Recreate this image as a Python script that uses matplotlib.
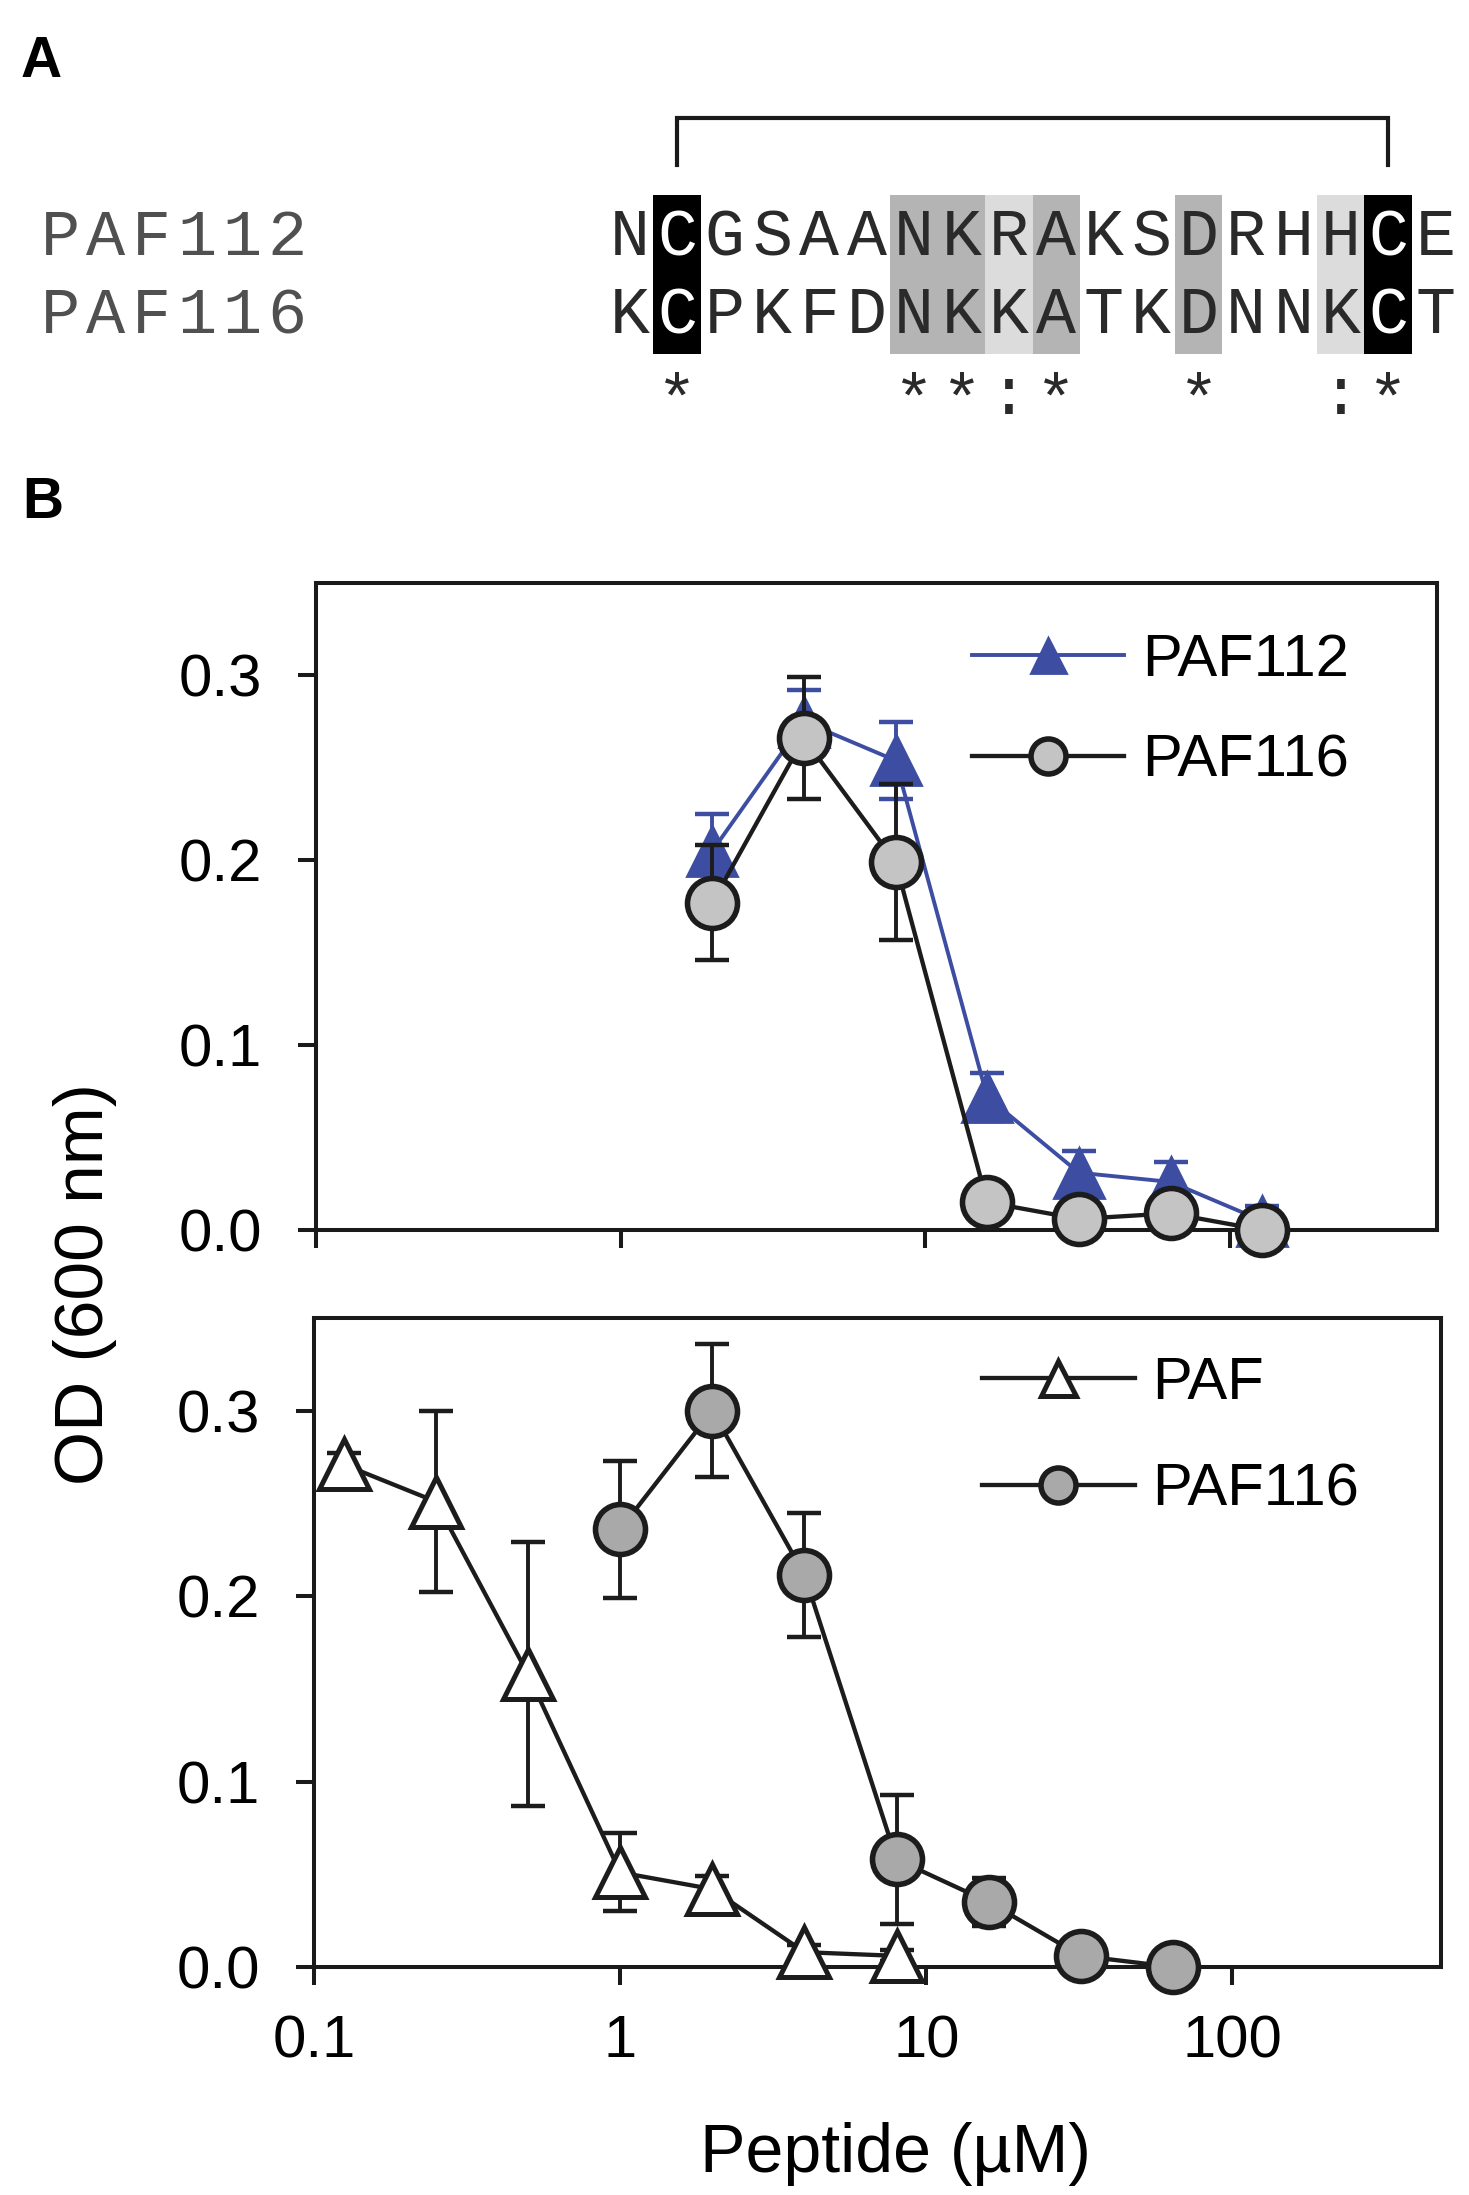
import matplotlib
matplotlib.use("Agg")
import matplotlib.pyplot as plt
from matplotlib.patches import Rectangle

# ---------------- Panel A: alignment data ----------------
seq_names = ["PAF112", "PAF116"]
seq_rows = ["NCGSAANKRAKSDRHHCE", "KCPKFDNKKATKDNNKCT"]
conservation = " *    **:*  *  :* "
shading = ["", "k", "", "", "", "", "d", "d", "l", "d", "", "", "d", "", "", "l", "k", ""]
bracket_cols = [1, 16]

# ---------------- Panel B: data ----------------
conc_top = [2, 4, 8, 16, 32, 64, 128]
paf112_od = [0.205, 0.275, 0.254, 0.072, 0.031, 0.026, 0.005]
paf112_err = [0.020, 0.017, 0.021, 0.013, 0.012, 0.011, 0.008]
paf116_top_od = [0.177, 0.266, 0.199, 0.015, 0.006, 0.009, 0.000]
paf116_top_err = [0.031, 0.033, 0.042, 0.004, 0.003, 0.003, 0.002]

conc_paf = [0.125, 0.25, 0.5, 1, 2, 4, 8]
paf_od = [0.271, 0.251, 0.158, 0.051, 0.042, 0.008, 0.006]
paf_err = [0.006, 0.049, 0.071, 0.021, 0.007, 0.004, 0.003]
conc_116 = [1, 2, 4, 8, 16, 32, 64]
paf116_bot_od = [0.236, 0.300, 0.2115, 0.058, 0.035, 0.006, 0.000]
paf116_bot_err = [0.037, 0.036, 0.0335, 0.035, 0.013, 0.003, 0.002]

xticks = [0.1, 1, 10, 100]
xticklabels = ["0.1", "1", "10", "100"]
yticks = [0.0, 0.1, 0.2, 0.3]
yticklabels = ["0.0", "0.1", "0.2", "0.3"]

plt.rcParams["font.family"] = ["Liberation Sans", "DejaVu Sans"]

W, H = 1469, 2195
fig = plt.figure(figsize=(W / 100, H / 100), dpi=100)
fig.patch.set_facecolor("white")

BLUE = "#3D4EA2"
EDGE = "#1c1c1c"

# ---------- overlay for panel A (pixel coordinates) ----------
ov = fig.add_axes([0, 0, 1, 1], zorder=-1)
ov.set_xlim(0, W)
ov.set_ylim(H, 0)
ov.axis("off")

fig.text(21 / W, 1 - 77 / H, "A", fontsize=41, fontweight="bold", ha="left", va="baseline")
fig.text(22 / W, 1 - 518 / H, "B", fontsize=41, fontweight="bold", ha="left", va="baseline")

seq_x0, seq_adv = 606, 47.4
name_x0, name_adv = 38, 45.3
row_base = [255, 333]
mono = "Liberation Mono"
shade_col = {"k": "black", "d": "#b4b4b4", "l": "#dcdcdc"}

for i, s in enumerate(shading):
    if s:
        ov.add_patch(Rectangle((seq_x0 + seq_adv * i, 195), seq_adv, 159,
                               facecolor=shade_col[s], edgecolor="none"))

for r, (name, seq) in enumerate(zip(seq_names, seq_rows)):
    for j, ch in enumerate(name):
        ov.text(name_x0 + name_adv * (j + 0.5), row_base[r], ch, family=mono,
                fontsize=47, color="#505050", ha="center", va="baseline")
    for j, ch in enumerate(seq):
        col = "white" if shading[j] == "k" else "#2a2a2a"
        ov.text(seq_x0 + seq_adv * (j + 0.5), row_base[r], ch, family=mono,
                fontsize=48, color=col, ha="center", va="baseline")

for j, ch in enumerate(conservation):
    if ch == "*":
        ov.text(seq_x0 + seq_adv * (j + 0.5), 420, ch, family=mono,
                fontsize=48, color="#2a2a2a", ha="center", va="baseline")
    elif ch == ":":
        ov.text(seq_x0 + seq_adv * (j + 0.5), 414, ch, family=mono,
                fontsize=48, color="#2a2a2a", ha="center", va="baseline")

bx = [seq_x0 + seq_adv * (c + 0.5) for c in bracket_cols]
ov.plot([bx[0], bx[0], bx[1], bx[1]], [165, 118, 118, 165], color="#1a1a1a",
        lw=3.0, solid_joinstyle="miter")

# ---------- panel B axes ----------
ax1 = fig.add_axes([316 / W, 1 - 1230 / H, 1121 / W, 647 / H])
ax2 = fig.add_axes([314 / W, 1 - 1967 / H, 1127 / W, 649 / H])

for ax in (ax1, ax2):
    ax.set_xscale("log")
    ax.set_xlim(0.1, 480)
    ax.set_ylim(0, 0.35)
    ax.set_xticks(xticks)
    ax.set_yticks(yticks)
    ax.set_yticklabels(yticklabels)
    ax.minorticks_off()
    for sp in ax.spines.values():
        sp.set_linewidth(2.9)
        sp.set_color("#1a1a1a")
    ax.tick_params(axis="both", direction="out", length=13, width=2.9,
                   color="#1a1a1a", labelsize=43)
    ax.tick_params(axis="y", pad=26)
    ax.tick_params(axis="x", pad=21)

ax1.set_xticklabels([])
ax2.set_xticklabels(xticklabels)

ekw = dict(fmt="none", elinewidth=2.8, capsize=12, capthick=3.2, clip_on=False)

# top panel
ax1.errorbar(conc_top, paf112_od, yerr=paf112_err, ecolor=BLUE, zorder=3, **ekw)
l112, = ax1.plot(conc_top, paf112_od, color=BLUE, lw=2.8, marker="^", markersize=36,
                 markerfacecolor=BLUE, markeredgecolor=BLUE, markeredgewidth=2,
                 clip_on=False, zorder=4, label="PAF112")
ax1.errorbar(conc_top, paf116_top_od, yerr=paf116_top_err, ecolor=EDGE, zorder=5, **ekw)
l116t, = ax1.plot(conc_top, paf116_top_od, color=EDGE, lw=3.1, marker="o", markersize=36,
                  markerfacecolor="#c4c4c4", markeredgecolor=EDGE, markeredgewidth=4,
                  clip_on=False, zorder=6, label="PAF116")

ax1.legend(handles=[l112, l116t], loc="upper left", bbox_to_anchor=(0.585, 0.923),
           frameon=False, fontsize=43, handlelength=2.55, handletextpad=0.3,
           labelspacing=0.77, borderpad=0, borderaxespad=0, markerscale=0.7)

# bottom panel
ax2.errorbar(conc_paf, paf_od, yerr=paf_err, ecolor=EDGE, zorder=3, **ekw)
lpaf, = ax2.plot(conc_paf, paf_od, color=EDGE, lw=3.1, marker="^", markersize=36,
                 markerfacecolor="white", markeredgecolor=EDGE, markeredgewidth=3.6,
                 clip_on=False, zorder=4, label="PAF")
ax2.errorbar(conc_116, paf116_bot_od, yerr=paf116_bot_err, ecolor=EDGE, zorder=5, **ekw)
l116b, = ax2.plot(conc_116, paf116_bot_od, color=EDGE, lw=3.1, marker="o", markersize=36,
                  markerfacecolor="#a9a9a9", markeredgecolor=EDGE, markeredgewidth=4,
                  clip_on=False, zorder=6, label="PAF116")

ax2.legend(handles=[lpaf, l116b], loc="upper left", bbox_to_anchor=(0.593, 0.941),
           frameon=False, fontsize=43, handlelength=2.55, handletextpad=0.3,
           labelspacing=0.86, borderpad=0, borderaxespad=0, markerscale=0.7)

fig.text(85 / W, 1 - 1284 / H, "OD (600 nm)", fontsize=50, rotation=90,
         ha="center", va="center")
fig.text(895 / W, 1 - 2172 / H, "Peptide (µM)", fontsize=49, ha="center", va="baseline")

fig.savefig("out.png", dpi=100, facecolor="white")
